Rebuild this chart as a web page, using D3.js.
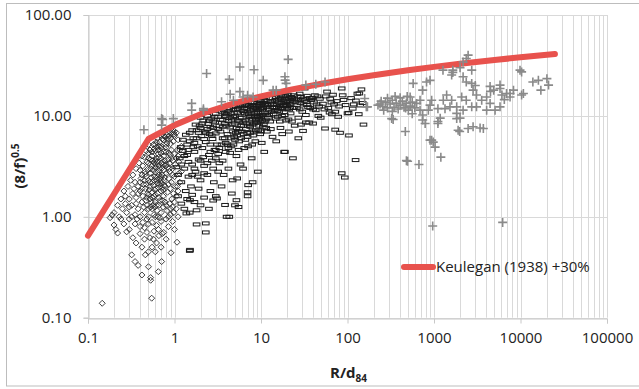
<!DOCTYPE html>
<html><head><meta charset="utf-8">
<script src="https://cdn.jsdelivr.net/npm/d3@7"></script>
<style>body{margin:0;background:#fff}svg{display:block}text{font-family:"Open Sans",sans-serif}</style>
</head><body><svg id="c" width="639" height="389"></svg>
<script>
// ---- data ----
const xTicks = [0.1, 1, 10, 100, 1000, 10000, 100000];
const xTickLabels = ["0.1", "1", "10", "100", "1000", "10000", "100000"];
const yTicks = [0.1, 1, 10, 100];
const yTickLabels = ["0.10", "1.00", "10.00", "100.00"];
const legendLabel = "Keulegan (1938) +30%";

const keuleganX = [0.1, 0.5, 1, 2, 5, 10, 20, 50, 100, 200, 500, 1000, 2000, 5000, 10000, 25000];
const keuleganY = [0.65, 5.9, 8.1, 10.4, 13.4, 15.6, 17.9, 20.8, 23.1, 25.3, 28.3, 30.6, 32.8, 35.8, 38.1, 41.1];

const diamondPts = [
[0.146,0.139],[0.545,0.156],[0.42,0.265],[0.53,0.25],[0.53,0.235],[0.65,0.286],[0.5,0.32],[0.71,0.36],[0.91,0.44],[1.07,0.56],
[0.38,0.33],[0.32,0.42],[0.35,0.36],[0.2,0.83],[0.22,0.69],[0.19,1.04],[0.28,0.71],[0.21,0.75],[0.24,0.95],[0.18,0.98],
[0.46,0.42],[0.5,0.45],[0.6,0.45],[0.55,0.5],[0.42,0.5],[0.36,0.55],[0.33,0.62],[0.3,0.75],[0.45,0.6],[0.62,0.55],
[0.7,0.5],[0.8,0.6],[0.75,0.7],[0.66,0.65],[0.52,0.62],[0.4,0.68],[0.58,0.72],[0.85,0.8],[0.95,0.9],[1.0,0.75],
[0.26,0.85],[0.3,0.95],[0.35,0.85],[0.45,0.78],[0.5,0.85],[0.62,0.82],[0.7,0.9],[0.8,0.95],[0.9,1.05],[1.1,1.0],[1.05,1.2],[0.95,1.25],
[0.25,1.2],[0.28,1.1],[0.32,1.3],[0.35,1.05],[0.38,1.2],[0.4,1.0],[0.42,1.4],[0.45,1.1],[0.48,1.3],[0.5,1.0],[0.52,1.5],[0.55,1.2],
[0.58,1.05],[0.6,1.4],[0.63,1.15],[0.66,1.3],[0.7,1.1],[0.74,1.25],[0.78,1.4],[0.82,1.15],[0.88,1.35],[0.93,1.5],[1.0,1.4],
[0.3,1.5],[0.33,1.7],[0.36,1.55],[0.4,1.8],[0.43,1.6],[0.46,1.9],[0.49,1.7],[0.52,2.0],[0.55,1.75],[0.58,1.6],[0.61,1.9],
[0.64,1.7],[0.67,2.1],[0.7,1.8],[0.74,1.6],[0.78,2.0],[0.83,1.75],[0.9,1.9],[0.97,1.7],[1.05,1.6],
[0.35,2.2],[0.38,2.0],[0.41,2.4],[0.44,2.1],[0.47,2.5],[0.5,2.3],[0.53,2.7],[0.56,2.2],[0.59,2.5],[0.62,2.3],[0.65,2.8],
[0.68,2.4],[0.72,2.6],[0.76,2.3],[0.8,2.7],[0.86,2.4],[0.92,2.2],[1.0,2.5],
[0.4,2.9],[0.43,3.2],[0.46,2.8],[0.5,3.4],[0.53,3.0],[0.56,3.6],[0.6,3.1],[0.63,3.5],[0.66,3.2],[0.7,3.8],[0.74,3.3],
[0.78,3.6],[0.83,3.1],[0.88,3.4],[0.95,3.0],[1.02,3.3],
[0.45,3.9],[0.5,4.3],[0.55,4.0],[0.6,4.5],[0.65,4.2],[0.7,4.8],[0.75,4.4],[0.8,4.9],[0.86,4.3],[0.92,4.6],[1.0,4.2],[1.1,4.0],
[0.52,4.6],[0.6,5.2],[0.68,5.5],[0.75,5.8],[0.82,5.4],[0.9,6.0],[0.98,6.6],[1.0,6.4],[0.88,6.9],[1.1,5.8],[1.2,5.0],[0.78,6.2],
[0.22,1.3],[0.24,1.5],[0.26,1.8],[0.27,1.35],[0.29,2.0],[0.31,2.3],[0.33,2.6],[0.36,3.0],[0.39,3.4],[0.42,4.0],[0.2,1.1],[0.23,1.0],
[1.1,1.8],[1.15,2.2],[1.2,2.8],[1.12,3.5],[1.08,2.0],[0.47,4.5],[0.52,4.6],[0.58,4.7],[0.62,4.9],[0.7,5.0],[0.95,7.0],[1.05,6.8],
[0.48,1.55],[0.51,1.85],[0.54,1.4],[0.57,2.05],[0.6,1.65],[0.63,2.45],[0.66,1.55],[0.69,2.25],[0.72,1.95],[0.75,2.9],[0.57,2.9],
[0.54,2.45],[0.6,2.75],[0.66,2.6],[0.72,3.05],[0.45,2.3],[0.42,1.9],[0.47,2.1],[0.5,1.2],[0.56,1.3],[0.64,1.0],[0.68,0.98],
[0.59,1.25],[0.73,1.45],[0.8,1.3],[0.85,2.1],[0.88,2.8],[0.8,3.3],[0.66,3.9],[0.58,3.4],[0.62,3.8],[0.53,3.7],[0.48,3.5],[0.7,4.3],
[0.44,1.25],[0.47,1.45],[0.5,1.65],[0.53,1.25],[0.56,1.55],[0.59,1.85],[0.62,1.3],[0.65,1.95],[0.68,1.45],[0.71,2.15],[0.74,1.85],[0.77,2.45],
[0.46,2.65],[0.49,2.95],[0.52,2.2],[0.55,3.2],[0.58,2.3],[0.61,3.3],[0.64,2.15],[0.67,3.0],[0.7,2.5],[0.73,3.5],[0.76,2.05],[0.79,3.2],
[0.5,3.8],[0.55,4.4],[0.6,3.6],[0.65,4.6],[0.7,3.4],[0.75,4.0],[0.8,4.4],[0.85,3.7],[0.9,4.1],[0.95,3.6],[0.62,5.5],[0.72,5.9],[0.8,5.2],
[0.42,2.6],[0.4,2.2],[0.38,1.7],[0.36,1.35],[0.34,1.9],[0.3,1.25],[0.27,1.6],[0.32,1.0],[0.37,0.95],[0.43,0.88],[0.48,0.95],[0.55,0.88],[0.6,1.0],
[0.65,0.75],[0.72,0.68],[0.48,0.7],[0.4,0.8],[0.57,0.6],[0.85,1.0],[0.9,1.2],[0.98,1.1],[1.02,2.0],[0.95,2.6],[0.87,3.0],[0.92,3.8],[1.05,3.8],[1.15,4.6],
[0.83,5.9],[0.9,5.3],[0.97,5.6],[0.86,6.3],[0.92,6.6],[1.0,7.0],[0.66,5.0],[0.57,5.2],[0.63,6.0],[0.7,6.4],[0.76,6.3],[0.82,6.5],[1.08,4.6],[1.13,2.7],[0.5,5.2]
];

const rectPts = [
[1.05,3.1],[1.1,2.6],[1.15,3.8],[1.2,2.2],[1.25,4.5],[1.3,3.0],[1.35,1.8],[1.4,5.2],[1.45,2.5],[1.1,1.6],[1.2,1.35],[1.3,1.2],
[1.4,1.5],[1.5,1.1],[1.5,0.46],[1.25,5.8],[1.35,6.5],[1.45,3.5],[1.18,4.9],[1.4,4.1],[1.37,1.08],[1.51,1.46],[1.8,1.16],
[1.51,0.47],[3.1,1.52],[3.84,1.31],[5.2,1.46],[7.1,2.06],
[1.55,2.0],[1.6,3.3],[1.65,6.0],[1.7,4.4],[1.75,2.8],[1.8,7.2],[1.8,0.84],[1.85,5.0],[1.9,3.7],[1.95,8.0],[2.0,2.3],[2.05,6.3],
[2.1,4.8],[2.15,9.0],[2.2,3.2],[2.25,7.0],[2.3,0.86],[2.3,0.7],[2.3,5.5],[2.4,2.6],[2.45,8.3],[2.5,4.1],[2.55,6.6],[2.6,1.8],
[2.65,9.4],[2.7,3.6],[2.75,5.9],[2.8,7.6],[2.85,2.2],[2.9,4.6],[2.95,8.6],[3.0,1.6],[1.7,1.4],[2.0,1.3],[2.2,1.55],[2.5,1.2],
[1.6,1.65],[1.9,1.9],[2.8,1.45],[1.75,8.2],[2.0,9.6],[2.4,10.0],[1.9,6.8],[2.6,7.8],[1.65,4.9],[2.15,3.9],
[3.1,5.2],[3.2,9.8],[3.3,3.4],[3.4,7.0],[3.5,11.0],[3.6,6.0],[3.7,2.6],[3.8,8.4],[3.9,4.4],[4.0,1.0],[4.3,1.0],[4.0,10.4],
[4.1,6.6],[4.2,3.0],[4.3,12.0],[4.4,7.7],[4.5,5.0],[4.6,9.2],[4.7,2.3],[4.8,11.4],[4.9,6.2],[5.0,1.3],[5.0,8.4],[5.2,4.0],
[5.3,10.8],[5.4,7.0],[5.5,1.25],[5.5,12.4],[5.6,5.6],[5.7,9.6],[5.8,3.3],[5.9,8.0],[3.0,6.7],[3.3,8.0],[3.6,9.1],[3.9,10.0],
[4.2,8.9],[4.5,10.6],[4.8,9.8],[5.1,11.6],[5.4,9.0],[5.8,10.6],[3.2,4.2],[3.5,5.2],[3.8,6.0],[4.1,5.2],[4.4,4.3],[4.7,7.0],
[5.0,5.8],[5.3,6.4],[5.6,7.4],[3.5,2.0],[4.6,1.7],[5.3,2.4],[3.2,2.8],[3.0,10.5],[3.7,11.4],
[6.0,7.0],[6.2,11.2],[6.4,4.8],[6.6,9.0],[6.8,13.0],[7.0,1.6],[7.0,1.75],[7.0,6.2],[7.2,10.4],[7.4,8.0],[7.6,12.2],[7.8,3.8],
[8.0,9.4],[8.2,7.0],[8.4,13.4],[8.6,5.6],[8.8,11.0],[9.0,8.6],[9.2,2.8],[9.4,12.6],[9.6,10.0],[9.8,6.6],[10.0,14.0],[10.3,9.0],
[10.6,11.8],[10.9,4.4],[11.2,13.0],[11.5,7.6],[11.8,10.6],[6.1,12.4],[6.5,10.6],[6.9,11.8],[7.3,9.2],[7.7,10.0],[8.1,11.8],
[8.5,9.8],[8.9,12.4],[9.3,11.4],[9.7,13.2],[10.1,12.0],[10.5,10.2],[11.0,14.4],[11.6,12.2],[6.3,8.0],[6.7,7.4],[7.1,5.0],
[7.5,6.8],[7.9,5.2],[8.3,8.4],[8.7,7.2],[9.1,9.8],[9.5,8.0],[10.0,7.0],[10.8,8.2],[11.4,9.2],[6.2,3.0],[8.0,2.2],[10.2,5.4],[6.6,5.8],
[12.0,9.6],[12.5,15.0],[13.0,7.4],[13.5,12.2],[14.0,10.4],[14.5,14.2],[15.0,5.6],[15.5,11.2],[16.0,13.6],[16.5,8.8],[17.0,15.6],
[17.5,10.0],[18.0,12.6],[18.5,4.4],[19.0,14.6],[19.5,9.0],[20.0,11.8],[20.5,16.2],[21.0,7.0],[21.5,13.2],[22.0,10.6],[23.0,15.0],
[23.4,3.8],[24.0,12.0],[24.5,8.0],[12.3,11.6],[13.2,13.6],[14.2,12.0],[15.2,13.0],[16.2,11.0],[17.2,12.0],[18.2,14.2],[19.2,12.8],
[20.2,14.0],[21.2,11.6],[22.2,15.4],[23.2,13.6],[24.2,14.6],[12.8,8.8],[14.8,9.4],[16.8,7.6],[18.8,10.2],[20.8,9.2],[22.8,8.8],
[13.6,6.2],[17.6,6.6],[18.9,4.4],
[26,14.2],[27,6.0],[28,11.6],[29,15.4],[30.6,7.1],[31,13.0],[32,18.7],[33,10.2],[34,15.8],[35,12.2],[36,8.6],[38,14.4],[40,8.4],
[40,11.6],[42,16.0],[44,13.0],[46,10.0],[48,14.8],[26,12.0],[28,16.6],[30,11.0],[32,14.2],[34,12.8],[37,12.0],[39,15.0],[41,13.6],
[43,11.4],[45,15.6],[47,12.4],[49,9.6],[27,9.6],[29,8.2],[33,8.6],
[55,7.5],[58,17.4],[60,12.0],[63,14.8],[66,10.4],[70,13.0],[72,7.3],[72,11.0],[78,9.8],[82,6.8],[85.7,18.7],[85.7,2.7],[90,14.4],
[93,2.45],[100,10.6],[52,13.2],[56,15.6],[62,10.8],[68,16.2],[75,14.0],[80,12.4],[88,16.0],[95,12.8],[54,11.6],[65,13.6],
[103,10.7],[104,6.4],[110,15.0],[118,13.0],[124,3.65],[130,16.6],[137,16.7],[140,12.7],[145,18.3],[153,8.2],[115,11.8],[125,14.2],
[135,10.4],[150,13.4],
[3.2,7.4],[3.4,9.2],[3.6,7.8],[3.8,10.6],[4.0,8.0],[4.2,11.0],[4.4,9.6],[4.6,8.2],[4.8,12.4],[5.0,10.0],[5.2,7.6],[5.4,11.8],[5.6,8.8],[5.8,12.8],
[6.0,9.6],[6.2,8.6],[6.4,11.8],[6.6,12.8],[6.8,8.4],[7.0,11.0],[7.2,12.6],[7.4,9.8],[7.6,11.4],[7.8,13.6],[8.0,8.2],[8.2,12.8],[8.4,10.6],[8.6,12.0],
[8.8,9.0],[9.0,13.6],[9.2,10.8],[9.4,9.4],[9.6,14.2],[9.8,11.6],[10.0,9.8],[10.4,13.4],[10.8,12.8],[11.2,10.6],[11.6,14.0],[12.0,12.8],[12.4,10.2],
[12.8,14.0],[13.2,11.0],[13.6,15.0],[14.0,13.0],[14.4,11.4],[14.8,15.4],[15.2,12.2],[15.6,9.8],[16.0,14.6],[16.4,12.6],[16.8,15.0],[17.2,13.4],
[17.6,11.6],[18.0,15.6],[18.4,13.0],[18.8,11.8],[19.2,15.8],[19.6,13.6],[20.0,12.6],[21.0,14.8],[22.0,13.0],[23.0,12.0],[24.0,16.0],[25.0,13.8],
[26.5,15.6],[28.5,13.4],[30.5,14.8],[33.5,13.8],[36.5,15.0],[2.2,5.9],[2.4,7.4],[2.6,5.2],[2.8,8.8],[3.0,4.6],[2.0,7.6],[1.8,6.0],[2.1,8.4],
[2.3,6.8],[2.5,9.0],[2.7,6.4],[2.9,9.8],[1.6,7.2],[1.7,5.4],[1.5,5.6],[1.5,6.8],[1.2,3.3],[1.3,4.0],[1.45,4.6],[1.6,2.6],[1.7,3.0],[1.85,2.5],
[2.0,3.6],[2.2,2.7],[2.4,3.4],[2.6,4.4],[2.8,3.0],[3.0,3.8],[3.3,4.8],[3.6,3.6],[3.9,5.4],[4.2,4.8],[4.5,6.0],[4.8,5.2],[5.1,6.8],[5.5,4.6],
[5.9,6.0],[6.3,6.6],[6.9,6.8],[7.5,7.8],[8.1,6.4],[8.7,8.6],[9.3,7.2],[9.9,8.8],[10.5,7.8],[11.1,8.8],[11.7,7.0]
];

const plusPts = [
[0.443,7.3],[0.71,9.4],[0.71,8.1],[0.97,9.4],[0.73,9.2],[1.58,13.3],[1.58,11.4],[2.16,11.8],[2.16,11.4],[2.35,26.3],[4.3,23],
[4.4,16.4],[5.7,30.5],[5.7,17.4],[8.3,28.7],[10.6,22.5],[8.1,15.4],[15,18],[13.8,18],[18.9,24.4],[20.6,36.3],[19.5,21],[19,22.6],
[4.8,14.3],[3.5,13.8],[6.2,15.4],[7.0,16.0],[33,20.2],[43,20.6],[55,21.7],[158,14.9],[170,12.3],[165,12.3],[337,9.2],[466,7.0],
[480,3.6],[238,13.1],[255,12.4],[275,13.7],[290,12.0],[311,13.1],[330,14.3],[345,12.2],[365,13.4],[385,11.7],[406,12.8],
[430,14.0],[450,12.2],[480,13.4],[505,11.4],[530,12.5],[560,13.7],[262,11.4],[330,11.1],[406,15.1],[355,15.6],[490,15.6],
[290,15.0],[225,12.8],[245,14.0],[324,9.4],[495,3.55],[670,3.3],[574,21],[820,21.7],[900,22.5],[740,18],[690,11.4],[740,10.2],
[790,8.4],[900,5.75],[1030,4.9],[1200,3.9],[1110,8.4],[1180,9.5],[1280,14.3],[1400,16.1],[1600,14.3],[1830,12.3],[2090,15.4],
[1830,9.4],[1980,7.0],[2480,7.5],[2830,7.8],[3410,7.6],[3720,7.5],[1900,7.2],[1650,28.4],[1270,28.4],[1600,25.4],[2170,24.4],
[2360,37],[2480,40],[2170,34.2],[2730,28.4],[2730,21],[2360,21.7],[2830,18],[3100,16.1],[3560,14.3],[4060,15.4],[4450,13.3],
[4900,18],[5800,18.7],[6100,16.1],[6900,16.7],[7570,15.4],[8300,18],[10300,16.1],[9870,28.4],[10300,27.3],[13900,21.7],
[16100,22.5],[17200,18],[20200,23.4],[21100,20.2],[5800,12.3],[5080,11.4],[4060,11.4],[3100,12.3],[2730,12.3],[2360,14.3],
[2170,11.4],[1830,10.6],[1530,12.3],[1340,11.8],[940,14.3],[900,12.8],[860,11.4],[1110,11.8],[690,14.3],[530,15.4],[630,13.3],
[980,5.5],[940,5.75],[966,0.81],[6220,0.88],[740,9.1],[1110,8.8],[2000,9.5],[10800,16.7],[7570,16.7],[5800,20.2],[4450,19.6],
[1650,27.0],[2000,30.0],[3000,20.0],[600,12.0],[560,10.5],[470,12.0],[4500,17.5],[6500,14.5]
];

// ---- chart ----
const svg = d3.select("#c");
const x = d3.scaleLog().domain([0.1, 100000]).range([88, 607]);
const y = d3.scaleLog().domain([0.1, 100]).range([317.7, 15]);

// outer frame
svg.append("rect").attr("x", 6.5).attr("y", 3.5).attr("width", 640).attr("height", 382.5)
  .attr("fill", "none").attr("stroke", "#bdbdbd").attr("stroke-width", 1);

// vertical grid (major + minor)
const vLines = [];
for (let e = -1; e < 5; e++) for (let m = 1; m < 10; m++) vLines.push(m * Math.pow(10, e));
vLines.push(100000);
const grid = svg.append("g");
grid.selectAll("line.v").data(vLines).join("line")
  .attr("x1", d => Math.round(x(d)) + 0.5).attr("x2", d => Math.round(x(d)) + 0.5)
  .attr("y1", y(100)).attr("y2", y(0.1))
  .attr("stroke", "#d9d9d9").attr("stroke-width", 1);
grid.selectAll("line.h").data(yTicks).join("line")
  .attr("x1", x(0.1)).attr("x2", x(100000))
  .attr("y1", d => Math.round(y(d)) + 0.5).attr("y2", d => Math.round(y(d)) + 0.5)
  .attr("stroke", "#d9d9d9").attr("stroke-width", 1);

// axes
const xAxis = d3.axisBottom(x).tickValues(xTicks).tickFormat((d, i) => xTickLabels[i]).tickSizeOuter(0).tickSize(5).tickPadding(9);
const yAxis = d3.axisLeft(y).tickValues(yTicks).tickFormat((d, i) => yTickLabels[i]).tickSizeOuter(0).tickSize(5).tickPadding(12);
const gx = svg.append("g").attr("transform", `translate(0,${Math.round(y(0.1)) + 0.5})`).call(xAxis);
const gy = svg.append("g").attr("transform", `translate(${Math.round(x(0.1)) + 0.5},0)`).call(yAxis);
[gx, gy].forEach(g => {
  g.selectAll("path, line").attr("stroke", "#c8c8c8");
  g.selectAll("text").attr("font-family", "Open Sans").attr("font-size", 15).attr("fill", "#222");
});

// diamonds
svg.append("g").selectAll("path").data(diamondPts).join("path")
  .attr("d", d => { const cx = x(d[0]), cy = y(d[1]), r = 3; return `M${cx},${cy - r}L${cx + r},${cy}L${cx},${cy + r}L${cx - r},${cy}Z`; })
  .attr("fill", "none").attr("stroke", "#2a2a2a").attr("stroke-width", 0.9);

// rectangles
svg.append("g").selectAll("rect").data(rectPts).join("rect")
  .attr("x", d => x(d[0]) - 3.3).attr("y", d => y(d[1]) - 1.5).attr("width", 6.6).attr("height", 3)
  .attr("fill", "none").attr("stroke", "#1a1a1a").attr("stroke-width", 1);

// Keulegan line
const line = d3.line().x(d => x(d[0])).y(d => y(d[1]));
svg.append("path").datum(keuleganX.map((v, i) => [v, keuleganY[i]]))
  .attr("d", line).attr("fill", "none").attr("stroke", "#e8524d").attr("stroke-width", 6)
  .attr("stroke-linejoin", "round").attr("stroke-linecap", "round");

// pluses
svg.append("g").selectAll("path").data(plusPts).join("path")
  .attr("d", d => { const cx = x(d[0]), cy = y(d[1]), r = 4.5; return `M${cx - r},${cy}H${cx + r}M${cx},${cy - r}V${cy + r}`; })
  .attr("stroke", "#8a8a8a").attr("stroke-width", 1.6).attr("fill", "none");

// legend
svg.append("line").attr("x1", 404).attr("x2", 433).attr("y1", 267).attr("y2", 267)
  .attr("stroke", "#e8524d").attr("stroke-width", 6).attr("stroke-linecap", "round");
svg.append("text").attr("x", 436).attr("y", 267).attr("dy", "0.35em")
  .attr("font-size", 15).attr("fill", "#222").text(legendLabel);

// axis titles
const yt = svg.append("text").attr("transform", "translate(25,166) rotate(-90)")
  .attr("text-anchor", "middle").attr("font-size", 15).attr("font-weight", "bold").attr("fill", "#222");
yt.append("tspan").text("(8/f)");
yt.append("tspan").attr("font-size", 10).attr("dy", -6).text("0.5");
const xt = svg.append("text").attr("x", 330).attr("y", 378)
  .attr("font-size", 15).attr("font-weight", "bold").attr("fill", "#222");
xt.append("tspan").text("R/d");
xt.append("tspan").attr("font-size", 10).attr("dy", 4).text("84");
</script></body></html>
